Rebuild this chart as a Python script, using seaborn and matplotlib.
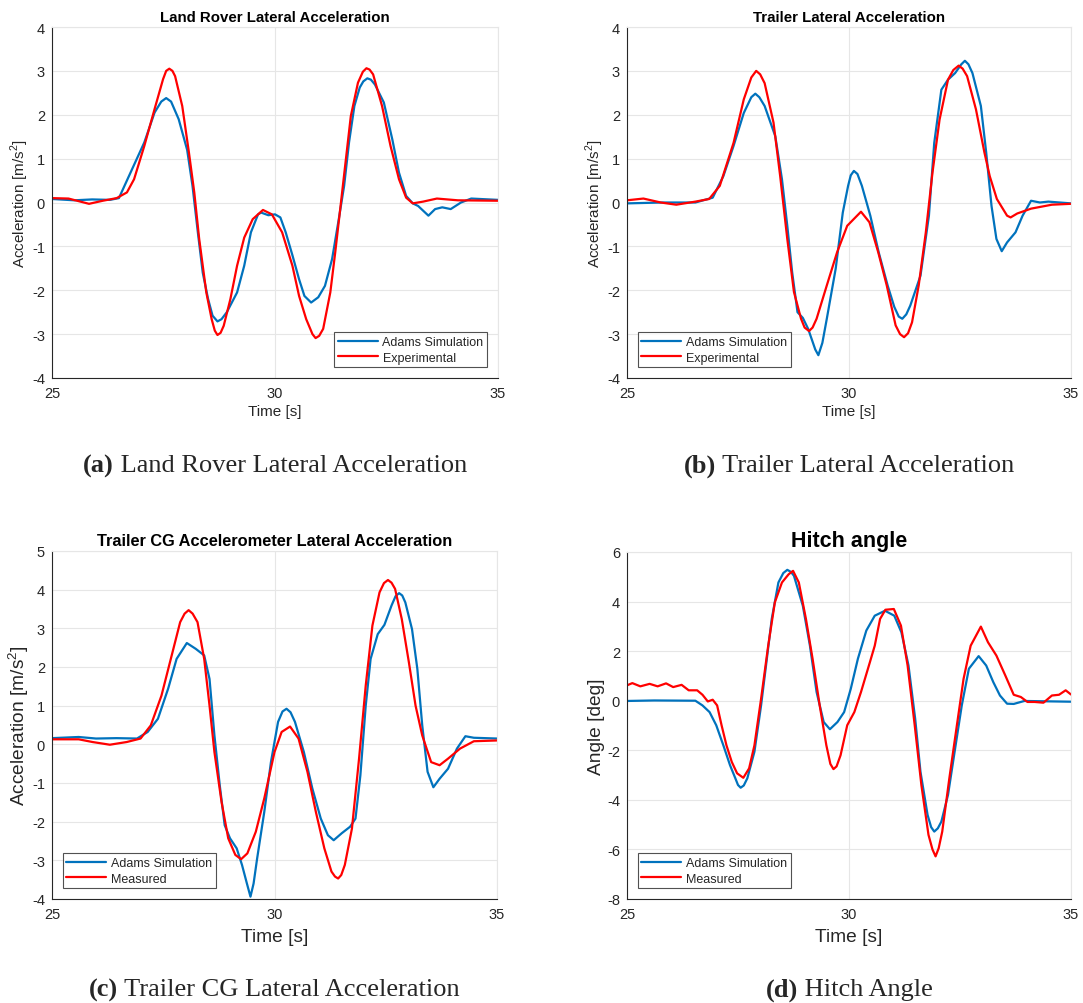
import seaborn as sns
import matplotlib.pyplot as plt
import pandas as pd

# Valeurs (temps en s)
# (a) Land Rover lateral acceleration
a_sim_t = [25.0, 25.5, 25.9, 26.3, 26.5, 26.76, 27.07, 27.3, 27.45, 27.56, 27.67, 27.84, 28.03, 28.15, 28.27,
           28.38, 28.5, 28.6, 28.71, 28.8, 28.92, 29.15, 29.31, 29.46, 29.62, 29.69, 29.85, 30.0, 30.12, 30.24,
           30.39, 30.54, 30.66, 30.81, 30.97, 31.12, 31.28, 31.43, 31.55, 31.66, 31.78, 31.9, 31.98, 32.07,
           32.15, 32.24, 32.44, 32.63, 32.78, 32.94, 33.09, 33.21, 33.44, 33.59, 33.75, 33.94, 34.17, 34.4, 35.0]
a_sim_y = [0.08, 0.05, 0.07, 0.06, 0.1, 0.68, 1.37, 2.05, 2.3, 2.38, 2.3, 1.9, 1.2, 0.38, -0.68,
           -1.6, -2.2, -2.58, -2.71, -2.66, -2.5, -2.05, -1.44, -0.68, -0.27, -0.23, -0.29, -0.27, -0.34, -0.68,
           -1.2, -1.75, -2.13, -2.28, -2.16, -1.9, -1.29, -0.38, 0.38, 1.37, 2.2, 2.62, 2.76, 2.83,
           2.8, 2.69, 2.28, 1.44, 0.68, 0.15, -0.02, -0.08, -0.3, -0.15, -0.11, -0.15, 0.0, 0.09, 0.06]
a_exp_t = [25.0, 25.37, 25.83, 26.14, 26.45, 26.68, 26.84, 27.07, 27.3, 27.49, 27.56, 27.63, 27.7, 27.76,
           27.92, 28.07, 28.19, 28.3, 28.46, 28.58, 28.65, 28.71, 28.78, 28.85, 29.0, 29.15, 29.31, 29.5,
           29.73, 29.93, 30.16, 30.39, 30.54, 30.7, 30.84, 30.91, 30.99, 31.08, 31.24, 31.35, 31.47, 31.59,
           31.7, 31.86, 31.97, 32.05, 32.12, 32.2, 32.4, 32.59, 32.78, 32.94, 33.09, 33.32, 33.63, 34.1, 35.0]
a_exp_y = [0.1, 0.09, -0.03, 0.04, 0.1, 0.23, 0.53, 1.29, 2.13, 2.81, 3.0, 3.05, 3.0, 2.88,
           2.2, 1.14, 0.23, -0.83, -2.05, -2.66, -2.92, -3.02, -2.97, -2.81, -2.2, -1.44, -0.8, -0.38,
           -0.17, -0.27, -0.68, -1.44, -2.13, -2.66, -3.0, -3.09, -3.04, -2.88, -2.05, -1.14, -0.08, 0.99,
           1.97, 2.73, 2.98, 3.06, 3.03, 2.92, 2.2, 1.29, 0.53, 0.11, -0.02, 0.02, 0.09, 0.05, 0.04]

# (b) Trailer lateral acceleration
b_sim_t = [25.0, 25.8, 26.54, 26.93, 27.17, 27.4, 27.63, 27.8, 27.89, 27.98, 28.1, 28.34, 28.49, 28.61,
           28.72, 28.84, 28.96, 29.08, 29.24, 29.31, 29.4, 29.5, 29.7, 29.86, 29.98, 30.04, 30.11, 30.19,
           30.29, 30.48, 30.67, 30.87, 31.02, 31.12, 31.2, 31.29, 31.38, 31.61, 31.8, 31.92, 32.08, 32.23,
           32.39, 32.53, 32.61, 32.69, 32.78, 32.97, 33.09, 33.21, 33.32, 33.44, 33.56, 33.75, 33.91, 34.1,
           34.3, 34.49, 35.0]
b_sim_y = [-0.02, 0.0, 0.0, 0.11, 0.6, 1.29, 2.04, 2.4, 2.48, 2.4, 2.2, 1.51, 0.53, -0.53,
           -1.59, -2.5, -2.63, -2.88, -3.35, -3.48, -3.2, -2.65, -1.51, -0.23, 0.38, 0.62, 0.72, 0.65,
           0.38, -0.3, -1.14, -1.89, -2.38, -2.6, -2.65, -2.55, -2.35, -1.67, -0.3, 1.36, 2.57, 2.8,
           2.95, 3.15, 3.23, 3.15, 2.95, 2.2, 1.14, -0.08, -0.83, -1.11, -0.91, -0.68, -0.3, 0.04,
           0.0, 0.02, -0.02]
b_exp_t = [25.0, 25.37, 25.76, 26.11, 26.54, 26.85, 27.09, 27.4, 27.63, 27.8, 27.91, 28.0, 28.1, 28.3,
           28.45, 28.61, 28.76, 28.92, 29.0, 29.1, 29.18, 29.27, 29.5, 29.73, 29.96, 30.27, 30.46, 30.66,
           30.85, 31.05, 31.15, 31.24, 31.33, 31.42, 31.57, 31.73, 31.88, 32.04, 32.23, 32.35, 32.47, 32.56,
           32.66, 32.86, 33.05, 33.17, 33.33, 33.56, 33.64, 33.79, 34.1, 34.57, 35.0]
b_exp_y = [0.05, 0.09, 0.0, -0.05, 0.02, 0.08, 0.38, 1.36, 2.35, 2.85, 3.0, 2.92, 2.72, 1.82,
           0.6, -0.83, -2.04, -2.65, -2.85, -2.93, -2.85, -2.65, -1.89, -1.14, -0.53, -0.21, -0.45, -1.14,
           -1.89, -2.8, -3.0, -3.07, -2.98, -2.73, -1.89, -0.68, 0.68, 1.89, 2.8, 3.02, 3.12, 3.05,
           2.88, 2.12, 1.14, 0.6, 0.08, -0.3, -0.34, -0.25, -0.14, -0.05, -0.03]

# (c) Trailer CG lateral acceleration
c_sim_t = [25.0, 25.6, 25.99, 26.45, 26.91, 27.15, 27.38, 27.61, 27.8, 28.03, 28.23, 28.42, 28.54, 28.65,
           28.77, 28.88, 29.0, 29.15, 29.27, 29.38, 29.46, 29.53, 29.61, 29.77, 29.92, 30.08, 30.18, 30.27,
           30.36, 30.46, 30.66, 30.85, 31.04, 31.2, 31.33, 31.51, 31.7, 31.82, 31.93, 32.05, 32.16, 32.32,
           32.47, 32.63, 32.72, 32.8, 32.87, 32.94, 33.09, 33.21, 33.32, 33.44, 33.57, 33.71, 33.9, 34.1,
           34.29, 34.48, 35.0]
c_sim_y = [0.16, 0.19, 0.15, 0.16, 0.15, 0.32, 0.66, 1.44, 2.21, 2.62, 2.47, 2.3, 1.69, 0.23,
           -1.06, -2.09, -2.43, -2.69, -3.12, -3.6, -3.94, -3.6, -2.95, -1.75, -0.46, 0.58, 0.85, 0.92,
           0.83, 0.58, -0.2, -1.14, -1.92, -2.35, -2.48, -2.3, -2.13, -1.92, -0.8, 1.0, 2.21, 2.85,
           3.09, 3.59, 3.83, 3.91, 3.85, 3.67, 2.98, 1.95, 0.49, -0.71, -1.11, -0.89, -0.63, -0.11,
           0.21, 0.17, 0.15]
c_mes_t = [25.0, 25.6, 25.91, 26.3, 26.68, 26.99, 27.22, 27.46, 27.69, 27.88, 27.98, 28.07, 28.16, 28.27,
           28.42, 28.54, 28.65, 28.81, 28.96, 29.12, 29.25, 29.39, 29.58, 29.77, 30.0, 30.16, 30.35, 30.54,
           30.74, 30.93, 31.12, 31.28, 31.36, 31.43, 31.5, 31.58, 31.74, 31.9, 32.05, 32.2, 32.36, 32.46,
           32.55, 32.63, 32.71, 32.86, 33.02, 33.17, 33.32, 33.52, 33.71, 33.9, 34.17, 34.48, 35.0]
c_mes_y = [0.13, 0.13, 0.06, -0.01, 0.06, 0.15, 0.49, 1.26, 2.3, 3.16, 3.38, 3.47, 3.38, 3.16,
           2.21, 1.0, -0.2, -1.49, -2.43, -2.86, -2.97, -2.82, -2.26, -1.4, -0.2, 0.32, 0.46, 0.15,
           -0.71, -1.75, -2.69, -3.29, -3.42, -3.47, -3.38, -3.12, -2.18, -0.37, 1.52, 3.07, 3.93, 4.17,
           4.25, 4.18, 4.02, 3.24, 2.12, 1.0, 0.23, -0.46, -0.54, -0.37, -0.11, 0.08, 0.1]

# (d) Hitch angle
d_sim_t = [25.0, 25.61, 26.54, 26.7, 26.86, 27.01, 27.17, 27.32, 27.44, 27.5, 27.56, 27.63, 27.71, 27.87,
           28.02, 28.14, 28.26, 28.41, 28.52, 28.61, 28.69, 28.76, 28.96, 29.12, 29.27, 29.43, 29.57, 29.74,
           29.89, 30.04, 30.2, 30.39, 30.58, 30.81, 31.02, 31.18, 31.34, 31.49, 31.61, 31.77, 31.85, 31.92,
           32.0, 32.08, 32.23, 32.39, 32.54, 32.7, 32.92, 33.09, 33.25, 33.4, 33.56, 33.71, 33.95, 35.0]
d_sim_y = [-0.01, 0.01, 0.0, -0.19, -0.46, -0.99, -1.8, -2.6, -3.13, -3.4, -3.51, -3.42, -3.13, -2.06,
           -0.19, 1.55, 3.3, 4.77, 5.15, 5.28, 5.2, 5.04, 3.83, 2.22, 0.35, -0.86, -1.15, -0.86,
           -0.46, 0.48, 1.69, 2.83, 3.43, 3.63, 3.43, 2.76, 1.42, -0.72, -2.87, -4.61, -5.1, -5.28,
           -5.15, -4.88, -3.8, -1.93, -0.19, 1.29, 1.8, 1.42, 0.75, 0.21, -0.12, -0.13, -0.01, -0.04]
d_mes_t = [25.0, 25.12, 25.3, 25.51, 25.69, 25.88, 26.04, 26.23, 26.39, 26.58, 26.7, 26.82, 26.93, 27.03,
           27.13, 27.24, 27.36, 27.48, 27.62, 27.75, 27.87, 28.02, 28.18, 28.33, 28.49, 28.64, 28.74, 28.87,
           29.03, 29.18, 29.34, 29.49, 29.58, 29.65, 29.72, 29.81, 29.96, 30.12, 30.27, 30.47, 30.58, 30.7,
           30.82, 31.01, 31.17, 31.32, 31.48, 31.63, 31.79, 31.88, 31.95, 32.02, 32.1, 32.26, 32.43, 32.58,
           32.74, 32.97, 33.13, 33.32, 33.52, 33.71, 33.87, 34.02, 34.18, 34.38, 34.57, 34.73, 34.88, 35.0]
d_mes_y = [0.62, 0.71, 0.58, 0.68, 0.58, 0.7, 0.55, 0.64, 0.42, 0.42, 0.24, -0.03, 0.04, -0.19,
           -0.99, -1.8, -2.47, -2.93, -3.11, -2.73, -1.8, 0.08, 2.22, 3.97, 4.77, 5.1, 5.24, 4.77,
           3.3, 1.69, -0.19, -1.8, -2.55, -2.76, -2.65, -2.2, -0.99, -0.46, 0.35, 1.55, 2.22, 3.3,
           3.67, 3.7, 3.03, 1.42, -0.99, -3.4, -5.41, -6.0, -6.28, -5.95, -5.28, -3.13, -0.99, 0.88,
           2.22, 2.99, 2.36, 1.82, 1.02, 0.24, 0.15, -0.05, -0.05, -0.08, 0.21, 0.24, 0.42, 0.25]

sns.set_style('white')
plt.rcParams['font.family'] = ['Liberation Sans', 'DejaVu Sans']
plt.rcParams['mathtext.fontset'] = 'custom'
plt.rcParams['mathtext.rm'] = 'Liberation Sans'
plt.rcParams['axes.unicode_minus'] = False

W, H = 1083, 1004
fig = plt.figure(figsize=(W / 100, H / 100), dpi=100)

bleu = '#0072BD'
rouge = '#FF0000'
gris = '#262626'
grille = '#e6e6e6'

# (left, top, right, bottom) en pixels
panneaux = [
    dict(box=(52, 28, 498, 379), t1=a_sim_t, y1=a_sim_y, t2=a_exp_t, y2=a_exp_y, lab2='Experimental',
         ylim=(-4, 4), yticks=range(-4, 5), titre='Land Rover Lateral Acceleration', tsize=10.8,
         ylabel='Acceleration [m/s$^2$]', lsize=11, xlab_y=405, ylab_x=31, loc='lower right',
         tag='(a)', cap='Land Rover Lateral Acceleration', capy=466),
    dict(box=(627, 28, 1071, 379), t1=b_sim_t, y1=b_sim_y, t2=b_exp_t, y2=b_exp_y, lab2='Experimental',
         ylim=(-4, 4), yticks=range(-4, 5), titre='Trailer Lateral Acceleration', tsize=10.8,
         ylabel='Acceleration [m/s$^2$]', lsize=11, xlab_y=405, ylab_x=606, loc='lower left',
         tag='(b)', cap='Trailer Lateral Acceleration', capy=466),
    dict(box=(52, 552, 497, 900), t1=c_sim_t, y1=c_sim_y, t2=c_mes_t, y2=c_mes_y, lab2='Measured',
         ylim=(-4, 5), yticks=range(-4, 6), titre='Trailer CG Accelerometer Lateral Acceleration', tsize=11.8,
         ylabel='Acceleration [m/s$^2$]', lsize=13.8, xlab_y=929, ylab_x=31, loc='lower left',
         tag='(c)', cap='Trailer CG Lateral Acceleration', capy=990),
    dict(box=(627, 553, 1071, 900), t1=d_sim_t, y1=d_sim_y, t2=d_mes_t, y2=d_mes_y, lab2='Measured',
         ylim=(-8, 6), yticks=range(-8, 7, 2), titre='Hitch angle', tsize=15.5,
         ylabel='Angle [deg]', lsize=13.8, xlab_y=929, ylab_x=605, loc='lower left',
         tag='(d)', cap='Hitch Angle', capy=990),
]

renderer = fig.canvas.get_renderer()

for p in panneaux:
    l, t, r, b = p['box']
    ax = fig.add_axes([l / W, 1 - b / H, (r - l) / W, (b - t) / H])

    df = pd.concat([
        pd.DataFrame({'Temps': p['t1'], 'Valeur': p['y1'], 'Serie': 'Adams Simulation'}),
        pd.DataFrame({'Temps': p['t2'], 'Valeur': p['y2'], 'Serie': p['lab2']}),
    ])
    sns.lineplot(data=df, x='Temps', y='Valeur', hue='Serie', palette=[bleu, rouge],
                 estimator=None, linewidth=1.6, ax=ax)
    for ln in ax.lines:
        ln.set_solid_joinstyle('round')

    ax.set_xlim(25, 35)
    ax.set_ylim(*p['ylim'])
    ax.set_xticks([25, 30, 35])
    ax.set_yticks(list(p['yticks']))
    ax.grid(True, color=grille, linewidth=0.8)
    ax.set_axisbelow(True)
    for s in ['top', 'right']:
        ax.spines[s].set_color(grille)
    for s in ['left', 'bottom']:
        ax.spines[s].set_color(gris)
        ax.spines[s].set_linewidth(0.8)
    ax.tick_params(direction='in', length=4, width=0.6, color=gris, labelcolor=gris,
                   labelsize=10.5, top=False, right=False)
    ax.tick_params(axis='x', pad=6)
    ax.tick_params(axis='y', pad=5)

    ax.set_title(p['titre'], fontsize=p['tsize'], fontweight='bold', color='black', pad=4)
    ax.set_xlabel('Time [s]', fontsize=p['lsize'], color=gris)
    ax.set_ylabel(p['ylabel'], fontsize=p['lsize'], color=gris)
    ax.xaxis.set_label_coords(0.5, (b - p['xlab_y']) / (b - t))
    ax.yaxis.set_label_coords((p['ylab_x'] - l) / (r - l), 0.5)

    leg = ax.legend(loc=p['loc'], fontsize=9, frameon=True, fancybox=False, handlelength=3.2,
                    handletextpad=0.4, borderpad=0.3, labelspacing=0.3, borderaxespad=0.85)
    leg.get_frame().set_edgecolor(gris)
    leg.get_frame().set_linewidth(0.8)
    for txt in leg.get_texts():
        txt.set_color(gris)

    # Légende sous chaque graphique : "(x)" en gras puis le texte
    cx = (l + r) / 2
    t1 = fig.text(0, 1 - p['capy'] / H, p['tag'], family='Liberation Serif', weight='bold',
                  size=19, va='center')
    t2 = fig.text(0, 1 - p['capy'] / H, ' ' + p['cap'], family='Liberation Serif',
                  size=19, va='center')
    w1 = t1.get_window_extent(renderer).width
    w2 = t2.get_window_extent(renderer).width
    x0 = cx - (w1 + w2) / 2
    t1.set_x(x0 / W)
    t2.set_x((x0 + w1) / W)

fig.savefig('out.png', dpi=100)
